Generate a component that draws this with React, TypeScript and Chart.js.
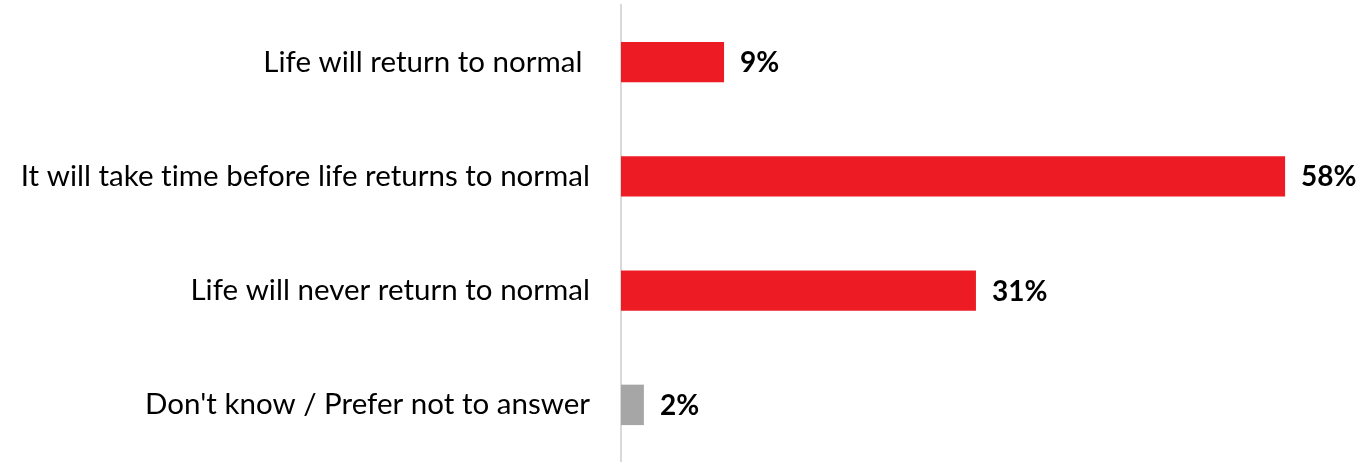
import React, { useEffect, useRef } from "react";
import { Chart, registerables } from "chart.js";

Chart.register(...registerables);

const categories = [
  "Life will return to normal ",
  "It will take time before life returns to normal",
  "Life will never return to normal",
  "Don't know / Prefer not to answer",
];
const values = [9, 58, 31, 2];
const barColors = ["#ED1C24", "#ED1C24", "#ED1C24", "#A6A6A6"];
const valueLabels = ["9%", "58%", "31%", "2%"];

const FONT = "Lato, 'Open Sans', sans-serif";

const noLigaturePlugin = {
  id: "noLigatures",
  beforeDraw(chart: any) {
    const ctx = chart.ctx;
    ctx.save();
    try {
      (ctx as any).letterSpacing = "0.01px";
    } catch (e) {}
  },
  afterDraw(chart: any) {
    chart.ctx.restore();
  },
};

const valueLabelPlugin = {
  id: "valueLabels",
  afterDatasetsDraw(chart: any) {
    const ctx = chart.ctx;
    const meta = chart.getDatasetMeta(0);
    ctx.save();
    ctx.font = `bold 28px ${FONT}`;
    ctx.fillStyle = "#000000";
    ctx.textAlign = "left";
    ctx.textBaseline = "middle";
    meta.data.forEach((bar: any, i: number) => {
      ctx.fillText(valueLabels[i], bar.x + 16, bar.y + 1);
    });
    ctx.restore();
  },
};

export default function App() {
  const ref = useRef<HTMLCanvasElement | null>(null);
  useEffect(() => {
    if (!ref.current) return;
    const chart = new Chart(ref.current, {
      type: "bar",
      data: {
        labels: categories,
        datasets: [
          {
            data: values,
            backgroundColor: barColors,
            borderWidth: 0,
            barPercentage: 0.354,
            categoryPercentage: 1,
          },
        ],
      },
      options: {
        indexAxis: "y",
        animation: false,
        responsive: false,
        maintainAspectRatio: false,
        layout: { padding: { top: 5, right: 54, bottom: 0, left: 0 } },
        plugins: {
          legend: { display: false },
          tooltip: { enabled: false },
        },
        scales: {
          x: {
            display: false,
            min: 0,
            max: 60,
          },
          y: {
            grid: { display: false, drawTicks: false },
            border: { display: true, color: "#D9D9D9", width: 2 },
            ticks: {
              color: "#000000",
              padding: 31,
              font: { family: FONT, size: 29.5 },
            },
            afterFit(scale: any) {
              scale.width = 621;
              scale.paddingTop = 0;
              scale.paddingBottom = 0;
            },
          },
        },
      },
      plugins: [noLigaturePlugin, valueLabelPlugin],
    });
    return () => chart.destroy();
  }, []);
  return (
    <div style={{ position: "absolute", left: 0, top: 0, width: 1362, height: 462, background: "#fff" }}>
      <canvas ref={ref} width={1362} height={462} />
    </div>
  );
}
